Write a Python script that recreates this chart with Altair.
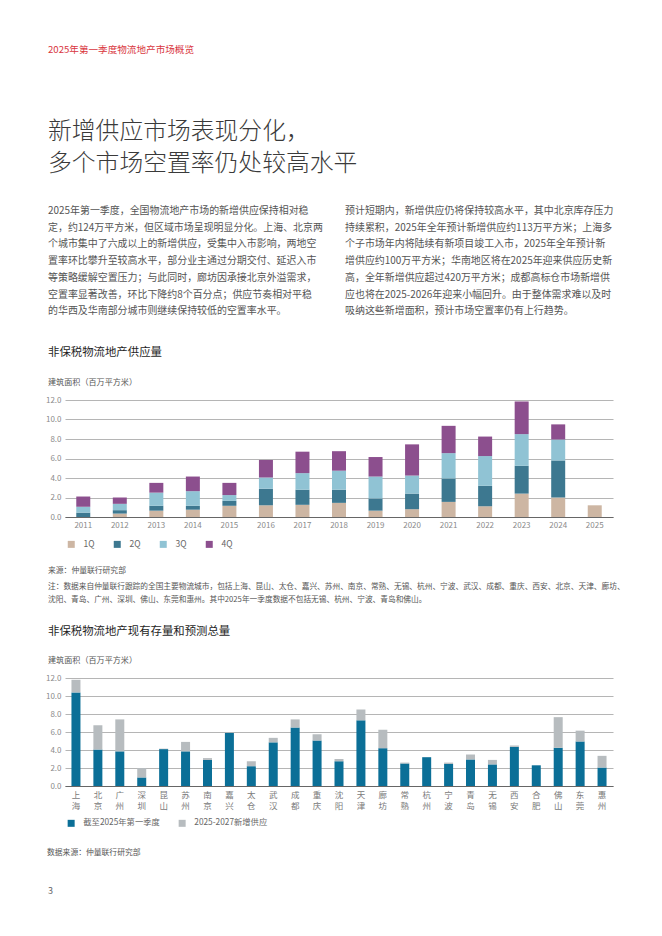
import altair as alt
import pandas as pd

FONT = "Noto Sans CJK SC"

header = "2025年第一季度物流地产市场概览"
title_lines = ["新增供应市场表现分化，", "多个市场空置率仍处较高水平"]
left_para = [
    "2025年第一季度，全国物流地产市场的新增供应保持相对稳",
    "定，约124万平方米，但区域市场呈现明显分化。上海、北京两",
    "个城市集中了六成以上的新增供应，受集中入市影响，两地空",
    "置率环比攀升至较高水平，部分业主通过分期交付、延迟入市",
    "等策略缓解空置压力；与此同时，廊坊因承接北京外溢需求，",
    "空置率显著改善，环比下降约8个百分点；供应节奏相对平稳",
    "的华西及华南部分城市则继续保持较低的空置率水平。",
]
right_para = [
    "预计短期内，新增供应仍将保持较高水平，其中北京库存压力",
    "持续累积，2025年全年预计新增供应约113万平方米；上海多",
    "个子市场年内将陆续有新项目竣工入市，2025年全年预计新",
    "增供应约100万平方米；华南地区将在2025年迎来供应历史新",
    "高，全年新增供应超过420万平方米；成都高标仓市场新增供",
    "应也将在2025-2026年迎来小幅回升。由于整体需求难以及时",
    "吸纳这些新增面积，预计市场空置率仍有上行趋势。",
]
chart1_title = "非保税物流地产供应量"
chart2_title = "非保税物流地产现有存量和预测总量"
axis_title = "建筑面积（百万平方米）"
source1 = "来源：仲量联行研究部"
note_lines = [
    "注：数据来自仲量联行跟踪的全国主要物流城市，包括上海、昆山、太仓、嘉兴、苏州、南京、常熟、无锡、杭州、宁波、武汉、成都、重庆、西安、北京、天津、廊坊、",
    "沈阳、青岛、广州、深圳、佛山、东莞和惠州。其中2025年一季度数据不包括无锡、杭州、宁波、青岛和佛山。",
]
source2 = "数据来源：仲量联行研究部"
page_no = "3"

# Chart 1 data
years = ["2011", "2012", "2013", "2014", "2015", "2016", "2017", "2018",
         "2019", "2020", "2021", "2022", "2023", "2024", "2025"]
quarters = ["1Q", "2Q", "3Q", "4Q"]
q1 = [0.0, 0.35, 0.65, 0.75, 1.15, 1.2, 1.25, 1.45, 0.65, 0.8, 1.55, 1.1, 2.4, 2.0, 1.2]
q2 = [0.45, 0.35, 0.5, 0.4, 0.5, 1.7, 1.55, 1.35, 1.25, 1.6, 2.4, 2.1, 2.85, 3.8, 0.0]
q3 = [0.6, 0.65, 1.35, 1.5, 0.6, 1.15, 1.7, 1.95, 2.25, 1.85, 2.6, 3.05, 3.25, 2.15, 0.0]
q4 = [1.05, 0.65, 1.0, 1.5, 1.25, 1.8, 2.2, 2.0, 2.0, 3.2, 2.8, 2.0, 3.35, 1.55, 0.0]
q_colors = ["#CDB6A3", "#3D7890", "#90C3D4", "#8C4F8E"]

# Chart 2 data
cities = ["上海", "北京", "广州", "深圳", "昆山", "苏州", "南京", "嘉兴", "太仓",
          "武汉", "成都", "重庆", "沈阳", "天津", "廊坊", "常熟", "杭州", "宁波",
          "青岛", "无锡", "西安", "合肥", "佛山", "东莞", "惠州"]
existing = [10.4, 4.05, 3.85, 0.95, 4.1, 3.85, 2.9, 5.9, 2.2, 4.85, 6.5, 5.05, 2.75,
            7.3, 4.2, 2.5, 3.2, 2.45, 2.95, 2.4, 4.35, 2.3, 4.25, 4.95, 2.05]
new_supply = [1.4, 2.7, 3.55, 1.05, 0.05, 1.05, 0.2, 0.05, 0.55, 0.5, 0.9, 0.7, 0.25,
              1.2, 2.05, 0.1, 0.0, 0.15, 0.55, 0.5, 0.15, 0.0, 3.4, 1.2, 1.3]
series2 = ["截至2025年第一季度", "2025-2027新增供应"]
s2_colors = ["#0B6F97", "#B7BCBF"]

# layout constants
PLOT_W = 548
H1 = 117
H2 = 108
X0 = 65     # page x of plot left
Y1 = 400    # page y of chart1 plot top
Y2 = 678    # page y of chart2 plot top

one = pd.DataFrame({"a": [0]})


def txt(s, xp, yp, size, color, top, weight="normal", baseline="middle"):
    return alt.Chart(one).mark_text(
        text=s, align="left", baseline=baseline, fontSize=size, color=color,
        fontWeight=weight, font=FONT
    ).encode(x=alt.value(xp - X0), y=alt.value(yp - top))


rows = []
for i, y in enumerate(years):
    for q, vals in zip(quarters, [q1, q2, q3, q4]):
        if vals[i] > 0:
            rows.append({"year": y, "q": q, "v": vals[i], "o": quarters.index(q)})
df1 = pd.DataFrame(rows)

yaxis = alt.Axis(values=[0, 2, 4, 6, 8, 10, 12], format=".1f", domain=False, ticks=False,
                 labelPadding=4, labelFontSize=8, labelColor="#8A8A8A",
                 gridColor="#B5B5B5", gridWidth=1, title=None)

bars1 = alt.Chart(df1).mark_bar(size=14).encode(
    x=alt.X("year:N", sort=years, title=None,
            scale=alt.Scale(paddingInner=0.62),
            axis=alt.Axis(labelAngle=0, ticks=False, domainColor="#666666",
                          labelFontSize=8, labelColor="#8A8A8A", labelPadding=4, grid=False)),
    y=alt.Y("v:Q", stack="zero", scale=alt.Scale(domain=[0, 12], nice=False), axis=yaxis),
    color=alt.Color("q:N", scale=alt.Scale(domain=quarters, range=q_colors),
                    legend=alt.Legend(orient="none", legendX=2, legendY=140,
                                      direction="horizontal", title=None,
                                      symbolType="square", symbolSize=49,
                                      symbolStrokeWidth=0, labelFontSize=8.5,
                                      labelColor="#666666", labelOffset=8,
                                      columnPadding=18, padding=0)),
    order=alt.Order("o:Q", sort="ascending"),
)

texts1 = [
    txt(" ", 8, 8, 6, "#FFFFFF", Y1, baseline="top"),
    txt(header, 48, 50, 9.6, "#D9363E", Y1),
    txt(title_lines[0], 48, 131.5, 23.8, "#3A3A3A", Y1, weight=300),
    txt(title_lines[1], 48, 163.5, 23.8, "#3A3A3A", Y1, weight=300),
]
for i, line in enumerate(left_para):
    texts1.append(txt(line, 48, 211 + i * 16.7, 9.95, "#555555", Y1))
for i, line in enumerate(right_para):
    texts1.append(txt(line, 345, 211 + i * 16.7, 9.95, "#555555", Y1))
texts1 += [
    txt(chart1_title, 48, 353, 11.4, "#1E1E1E", Y1),
    txt(axis_title, 48, 382.5, 8.1, "#555555", Y1),
    txt(source1, 48, 571, 7.8, "#555555", Y1),
    txt(note_lines[0], 48, 587, 7.7, "#555555", Y1),
    txt(note_lines[1], 48, 600, 7.7, "#555555", Y1),
]

chart1 = alt.layer(bars1, *texts1).properties(width=PLOT_W, height=H1)

rows2 = []
for c, e, n in zip(cities, existing, new_supply):
    rows2.append({"city": c, "s": series2[0], "v": e, "o": 0})
    if n > 0:
        rows2.append({"city": c, "s": series2[1], "v": n, "o": 1})
df2 = pd.DataFrame(rows2)

yaxis2 = alt.Axis(values=[0, 2, 4, 6, 8, 10, 12], format=".1f", domain=False, ticks=False,
                  labelPadding=4, labelFontSize=8, labelColor="#8A8A8A",
                  gridColor="#B5B5B5", gridWidth=1, title=None)

bars2 = alt.Chart(df2).mark_bar(size=9).encode(
    x=alt.X("city:N", sort=cities, title=None,
            axis=alt.Axis(labelAngle=0, ticks=False, domainColor="#666666",
                          labelFontSize=8.5, labelColor="#7A7A7A", labelPadding=4,
                          labelExpr="split(datum.label, '')", labelLineHeight=11,
                          labelBaseline="top", grid=False)),
    y=alt.Y("v:Q", stack="zero", scale=alt.Scale(domain=[0, 12], nice=False), axis=yaxis2),
    color=alt.Color("s:N", scale=alt.Scale(domain=series2, range=s2_colors),
                    legend=alt.Legend(orient="none", legendX=2, legendY=141,
                                      direction="horizontal", title=None,
                                      symbolType="square", symbolSize=49,
                                      symbolStrokeWidth=0, labelFontSize=8.3,
                                      labelColor="#666666", labelOffset=8,
                                      columnPadding=18, padding=0)),
    order=alt.Order("o:Q", sort="ascending"),
)

texts2 = [
    txt(chart2_title, 48, 632, 11.4, "#1E1E1E", Y2),
    txt(axis_title, 48, 661, 8.1, "#555555", Y2),
    txt(source2, 47, 853, 7.8, "#555555", Y2),
    txt(page_no, 48, 891, 9, "#666666", Y2),
]

chart2 = alt.layer(bars2, *texts2).properties(width=PLOT_W, height=H2)

chart = alt.vconcat(chart1, chart2, spacing=Y2 - Y1 - H1, bounds="flush").properties(
    padding=0
).resolve_scale(color="independent").configure(font=FONT).configure_view(stroke=None)

chart.save("out.html", embed_options={"renderer": "svg", "actions": False})
